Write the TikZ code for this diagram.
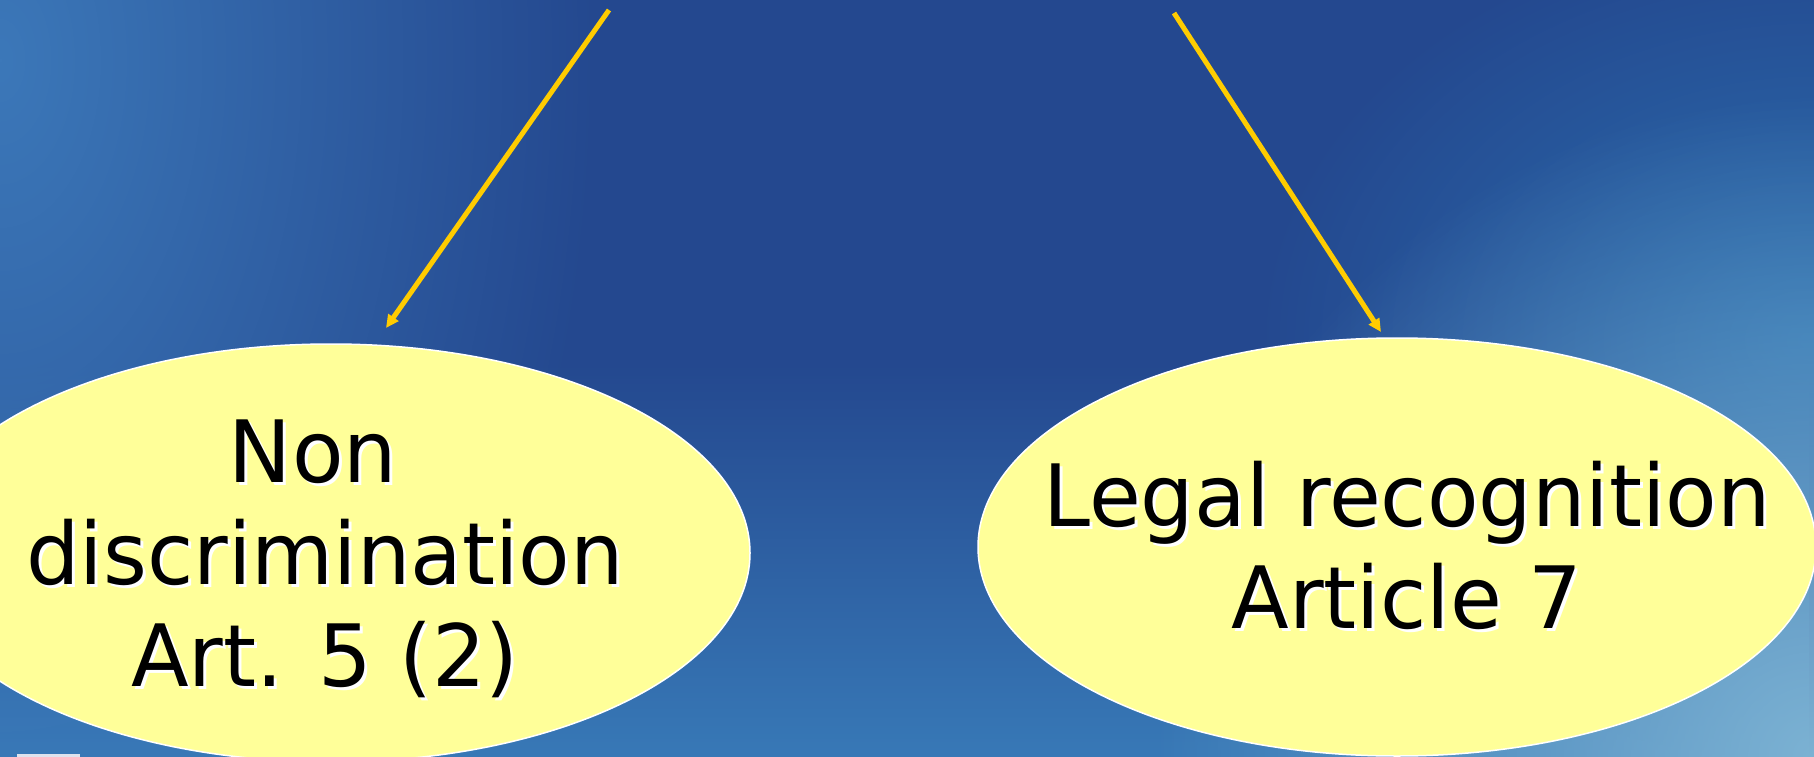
\documentclass[tikz,border=0pt]{standalone}
\usepackage{fontspec}
\setmainfont{DejaVu Sans}[FakeStretch=0.98]
\usepackage{tikz}
\usetikzlibrary{arrows.meta,shapes.geometric,fadings}

\definecolor{slideblue}{HTML}{24488F}
\definecolor{glowblue}{HTML}{3C78B9}
\definecolor{sideblue}{HTML}{2C70B0}
\definecolor{lowblue}{HTML}{3879B7}
\definecolor{cornerblue}{HTML}{7CB2D3}
\definecolor{pale}{HTML}{FFFF99}
\definecolor{gold}{HTML}{FFCC00}

\tikzfading[name=glowfade, inner color=transparent!0, outer color=transparent!100]

% one text line with its white drop shadow, moved sideways by #1
\newcommand{\shtext}[2][0bp]{\makebox[0pt]{\kern#1\rlap{\hspace{3bp}\raisebox{-3bp}{\color{white}#2}}#2\kern-#1}}

\begin{document}
\begin{tikzpicture}[x=1bp, y=-1bp, font=\fontsize{86bp}{102bp}\selectfont]
\tikzstyle{bubble}=[ellipse, draw=white, line width=1.5bp, fill=pale, minimum width=838bp, minimum height=418bp, inner sep=0pt, align=center]
\tikzstyle{link}=[draw=gold, line width=5bp, -{Triangle[length=13bp,width=12bp]}]

\useasboundingbox (0,0) rectangle (1814,757);
\clip (0,0) rectangle (1814,757);

% background
\fill[slideblue] (0,0) rectangle (1814,757);
\fill[lowblue, path fading=north] (0,360) rectangle (1814,757);
\fill[glowblue, path fading=glowfade] (0,60) ellipse (600 and 1000);
\fill[sideblue, path fading=glowfade] (1814,340) ellipse (560 and 420);
\fill[cornerblue, path fading=glowfade] (1814,757) circle (660);
\fill[white!85!slideblue] (17,754) rectangle (80,757);

\node[bubble, text depth=0pt] (nondisc) at (331,553) {\shtext[-18bp]{Non}\\\shtext[-6bp]{discrimination}\\\shtext[-6bp]{Art. 5 (2)}};
\node[bubble] (legal) at (1397,547) {\shtext[10bp]{Legal recognition}\\\shtext[10bp]{Article 7}};

\coordinate (srcL) at (609,10);
\coordinate (srcR) at (1174,13);
\coordinate (tipL) at (386,328);
\coordinate (tipR) at (1381,332);

\draw[link] (srcL) -- (tipL);
\draw[link] (srcR) -- (tipR);
\end{tikzpicture}
\end{document}
